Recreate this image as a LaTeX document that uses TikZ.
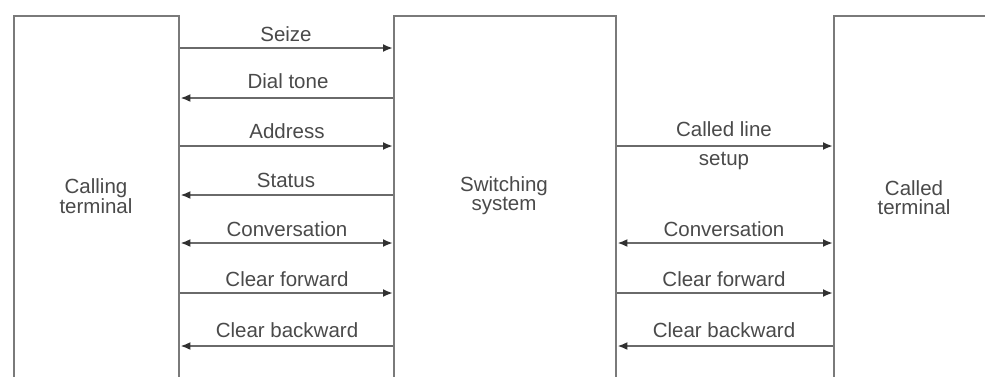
\documentclass[tikz,border=0pt]{standalone}
\usepackage{fontspec}
\setmainfont{Liberation Sans}
\usetikzlibrary{arrows.meta}
\definecolor{linecol}{HTML}{6A6A6A}
\definecolor{boxcol}{HTML}{7A7A7A}
\definecolor{headcol}{HTML}{303030}
\definecolor{txtcol}{HTML}{4A4A4A}
\tikzset{
  blk/.style={draw=boxcol, line width=2.4pt, minimum width=#1, minimum height=390pt, inner sep=0pt, anchor=north west},
  tip/.tip={Latex[length=10pt,width=8pt,color=headcol]},
  sig/.style={draw=linecol, line width=2.1pt, -tip},
  sigb/.style={draw=linecol, line width=2.1pt, tip-tip},
  lbl/.style={text=txtcol, font=\fontsize{20.5}{22}\selectfont, inner sep=0pt},
  blbl/.style={text=txtcol, font=\fontsize{20.5}{19}\selectfont, align=center, inner sep=0pt}
}
\begin{document}
\begin{tikzpicture}[x=1pt,y=-1pt]
\useasboundingbox (0,0) rectangle (985,376);
\clip (0,0) rectangle (985,376);
\fill[white] (0,0) rectangle (985,376);
% blocks
\node[blk=165pt] (calling) at (13,15) {};
\node[blk=222pt] (switch) at (393,15) {};
\node[blk=200pt] (called) at (833,15) {};
\node[blbl] (tcalling) at (96,196) {Calling\\terminal};
\node[blbl] (tswitch) at (504,196) {Switching\\system};
\node[blbl] (tcalled) at (914,198) {Called\\terminal};
% left signals
\draw[sig] (calling.east |- 0,48) -- (switch.west |- 0,48);
\node[lbl] (l1) at (286,34) {Seize};
\draw[sig] (switch.west |- 0,98) -- (calling.east |- 0,98);
\node[lbl] (l2) at (288,81) {Dial tone};
\draw[sig] (calling.east |- 0,146) -- (switch.west |- 0,146);
\node[lbl] (l3) at (287,131) {Address};
\draw[sig] (switch.west |- 0,195) -- (calling.east |- 0,195);
\node[lbl] (l4) at (286,180) {Status};
\draw[sigb] (calling.east |- 0,243) -- (switch.west |- 0,243);
\node[lbl] (l5) at (287,229) {Conversation};
\draw[sig] (calling.east |- 0,293) -- (switch.west |- 0,293);
\node[lbl] (l6) at (287,279) {Clear forward};
\draw[sig] (switch.west |- 0,346) -- (calling.east |- 0,346);
\node[lbl] (l7) at (287,330) {Clear backward};
% right signals
\draw[sig] (switch.east |- 0,146) -- (called.west |- 0,146);
\node[lbl] (r1) at (724,129) {Called line};
\node[lbl] (r1b) at (724,161) {setup};
\draw[sigb] (switch.east |- 0,243) -- (called.west |- 0,243);
\node[lbl] (r2) at (724,229) {Conversation};
\draw[sig] (switch.east |- 0,293) -- (called.west |- 0,293);
\node[lbl] (r3) at (724,279) {Clear forward};
\draw[sig] (called.west |- 0,346) -- (switch.east |- 0,346);
\node[lbl] (r4) at (724,330) {Clear backward};
\end{tikzpicture}
\end{document}
